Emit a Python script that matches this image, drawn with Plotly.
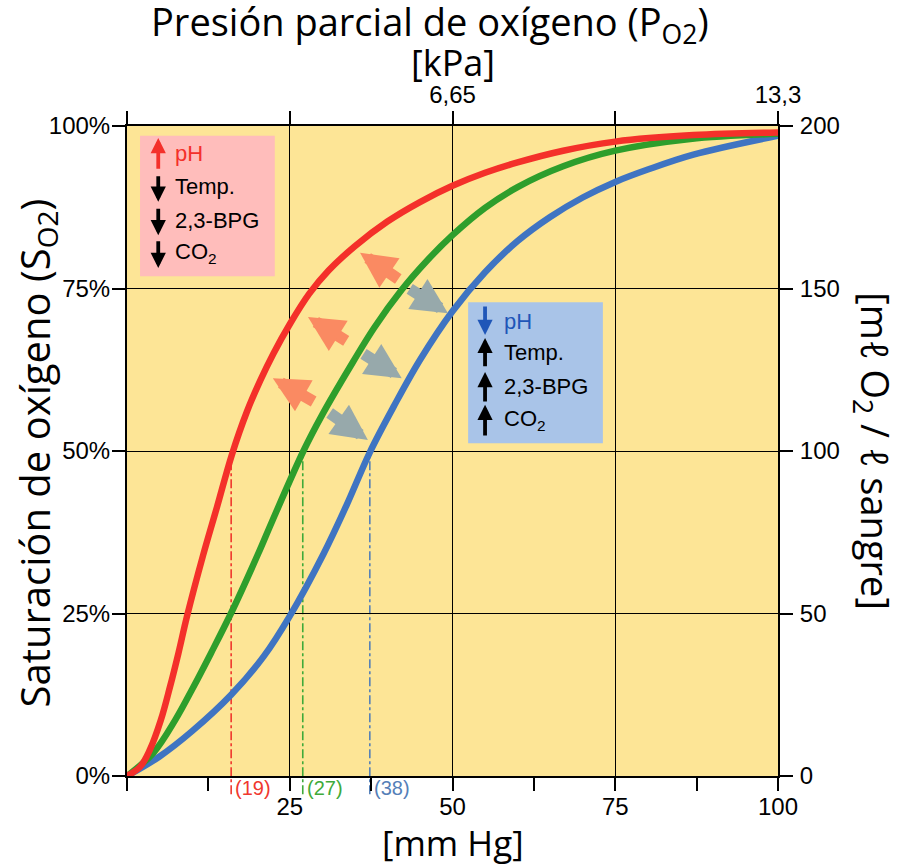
import plotly.graph_objs as go

# ejes
x_ticks = [0, 25, 50, 75, 100]
x_ticktext = ["", "25", "50", "75", "100"]
x_minor = [12.5, 37.5, 62.5, 87.5]
kpa_ticktext = ["", "", "6,65", "", "13,3"]
y_ticks = [0, 25, 50, 75, 100]
y_ticktext = ["0%", "25%", "50%", "75%", "100%"]
ml_ticks = [0, 50, 100, 150, 200]

# curvas de disociacion: pO2 (mm Hg) vs saturacion (%)
red_x = [0, 2, 3.5, 5.2, 6.6, 7.9, 9.2, 11.7, 13.8, 16.1, 18.4, 20.5, 22.5, 25, 28, 31, 35, 40, 45, 50, 55, 60, 67,
         75, 87, 100]
red_y = [0, 1.4, 4, 8.6, 13.7, 18.9, 24.5, 34, 41.3, 49.4, 56.0, 60.9, 65.0, 69.5, 74.2, 77.8, 81.5, 85.3, 88.3,
         90.8, 92.8, 94.4, 96.2, 97.6, 98.6, 99.0]

green_x = [0, 4.0, 7.4, 10.2, 12.9, 16.2, 20.2, 22.3, 27.1, 30, 34, 38, 42.2, 46, 50, 55, 60, 67, 75, 86.5, 100]
green_y = [0, 3.5, 8.6, 13.7, 18.9, 25.5, 34.3, 39.2, 50, 55.6, 62.5, 69, 74.8, 79.2, 83.2, 87.4, 90.6, 93.8, 96.2,
           98.0, 98.8]

blue_x = [0, 5, 10, 16, 21, 25, 30.2, 33.7, 37.3, 41, 45, 50, 55, 60, 65, 70, 75, 80, 87, 100]
blue_y = [0, 3.0, 6.9, 12.5, 18.4, 24.6, 34.2, 41.6, 49.8, 56.9, 64.0, 71.5, 77.5, 82.3, 86.0, 89.0, 91.4, 93.3,
          95.6, 98.5]

# P50
p50 = [16.0, 27.0, 37.3]
p50_text = ["(19)", "(27)", "(38)"]

# flechas de desplazamiento (punta, cola)
left_tip = [(22.4, 61.2), (27.8, 70.6), (35.8, 80.5)]
left_tail = [(28.9, 57.5), (33.9, 66.8), (41.9, 76.3)]
right_tail = [(30.9, 56.0), (36.1, 65.1), (43.2, 75.1)]
right_tip = [(37.0, 51.7), (42.2, 61.2), (49.3, 71.2)]

# cuadros
box_rows = ["pH", "Temp.", "2,3-BPG", "CO<sub>2</sub>"]
red_box = (2.0, 76.9, 22.7, 98.5)
red_rows_y = [95.8, 90.7, 85.5, 80.4]
red_arrow_tip = [98.15, 88.35, 83.2, 78.15]
red_arrow_tail = [93.2, 92.5, 87.5, 82.5]
blue_box = (52.4, 51.2, 73.1, 72.9)
blue_rows_y = [69.9, 65.2, 59.9, 54.8]
blue_arrow_tip = [67.85, 67.4, 62.15, 57.1]
blue_arrow_tail = [72.46, 62.8, 57.4, 52.15]

RED = "#F4302A"
GREEN = "#2E9E2C"
BLUE = "#3F74C2"
TITLE_FONT = "Open Sans"
TICK_FONT = "Liberation Sans"

fig = go.Figure()
for xs, ys, c in [(blue_x, blue_y, BLUE), (green_x, green_y, GREEN), (red_x, red_y, RED)]:
    fig.add_trace(go.Scatter(x=xs, y=ys, mode="lines", line=dict(color=c, width=6.5, shape="spline", smoothing=1.0),
                             hoverinfo="skip", showlegend=False))
# traza vacia para que se dibujen los ejes kPa y ml O2
fig.add_trace(go.Scatter(x=[], y=[], xaxis="x2", yaxis="y2", mode="lines", hoverinfo="skip", showlegend=False))

dash_colors = ["#F0382E", "#3FAA3A", "#5580B8"]
for p, t, c in zip(p50, p50_text, dash_colors):
    fig.add_shape(type="line", xref="x", yref="paper", x0=p, x1=p, y0=-0.028, y1=0.5,
                  line=dict(color=c, width=1.6, dash="dashdot"), layer="between")
    fig.add_annotation(x=p + 0.3, y=-0.018, xref="x", yref="paper", text=t, showarrow=False,
                       xanchor="left", yanchor="middle", font=dict(family=TICK_FONT, size=20, color=c))

for (tx, ty), (ax, ay) in zip(left_tip, left_tail):
    fig.add_annotation(x=tx, y=ty, ax=ax, ay=ay, xref="x", yref="y", axref="x", ayref="y", text="",
                       showarrow=True, arrowhead=2, arrowsize=0.62, arrowwidth=11.5, arrowcolor="#FA8A62")
for (tx, ty), (ax, ay) in zip(right_tip, right_tail):
    fig.add_annotation(x=tx, y=ty, ax=ax, ay=ay, xref="x", yref="y", axref="x", ayref="y", text="",
                       showarrow=True, arrowhead=2, arrowsize=0.62, arrowwidth=11.5, arrowcolor="#97A9AB")

fig.add_shape(type="rect", xref="x", yref="y", x0=red_box[0], y0=red_box[1], x1=red_box[2], y1=red_box[3],
              fillcolor="#FFBDBB", line=dict(width=0), layer="between")
fig.add_shape(type="rect", xref="x", yref="y", x0=blue_box[0], y0=blue_box[1], x1=blue_box[2], y1=blue_box[3],
              fillcolor="#A9C4E8", line=dict(width=0), layer="between")

for i, row in enumerate(box_rows):
    c_red = RED if i == 0 else "black"
    c_blue = "#1F56B8" if i == 0 else "black"
    fig.add_annotation(x=7.1, y=red_rows_y[i], xref="x", yref="y", text=row, showarrow=False, xanchor="left",
                       font=dict(family=TICK_FONT, size=22, color=c_red))
    fig.add_annotation(x=4.8, y=red_arrow_tip[i], ax=4.8, ay=red_arrow_tail[i], xref="x", yref="y", axref="x",
                       ayref="y", text="", showarrow=True, arrowhead=2, arrowsize=0.8, arrowwidth=3.8,
                       arrowcolor=c_red)
    fig.add_annotation(x=57.65, y=blue_rows_y[i], xref="x", yref="y", text=row, showarrow=False, xanchor="left",
                       font=dict(family=TICK_FONT, size=22, color=c_blue))
    fig.add_annotation(x=55.0, y=blue_arrow_tip[i], ax=55.0, ay=blue_arrow_tail[i], xref="x", yref="y",
                       axref="x", ayref="y", text="", showarrow=True, arrowhead=2, arrowsize=0.8,
                       arrowwidth=3.8, arrowcolor=c_blue)

axis_common = dict(showline=True, linecolor="black", linewidth=2, ticks="outside", ticklen=13, tickwidth=1.6,
                   tickcolor="black", tickfont=dict(family=TICK_FONT, size=24, color="black"), zeroline=False)

fig.update_layout(
    width=900, height=866,
    margin=dict(l=127, r=122, t=126, b=90),
    paper_bgcolor="white", plot_bgcolor="#FDE596",
    showlegend=False,
    xaxis=dict(range=[0, 100], tickmode="array", tickvals=x_ticks, ticktext=x_ticktext,
               showgrid=True, gridcolor="black", gridwidth=1.4, ticklabelstandoff=-5,
               minor=dict(tickvals=x_minor, ticks="outside", ticklen=13, tickwidth=1.6, tickcolor="black",
                          showgrid=False),
               **axis_common),
    xaxis2=dict(range=[0, 100], overlaying="x", side="top", anchor="y2", tickmode="array", tickvals=x_ticks,
                ticktext=kpa_ticktext, showgrid=False, ticklabelstandoff=-2, **axis_common),
    yaxis=dict(range=[0, 100], tickmode="array", tickvals=y_ticks, ticktext=y_ticktext,
               showgrid=True, gridcolor="black", gridwidth=1.4, ticklabelstandoff=-3, **axis_common),
    yaxis2=dict(range=[0, 200], overlaying="y", side="right", anchor="x2", tickmode="array", tickvals=ml_ticks,
                showgrid=False, ticklabelstandoff=2, **axis_common),
)

titles = [
    ("Presión parcial de oxígeno (P<sub>O2</sub>)", 0.465, 1.157, 0, 38),
    ("[kPa]", 0.5, 1.098, 0, 36),
    ("[mm Hg]", 0.5, -0.103, 0, 35),
    ("Saturación de oxígeno (S<sub>O2</sub>)", -0.139, 0.497, -90, 40),
    ("[mℓ O<sub>2</sub> / ℓ sangre]", 1.147, 0.5, 90, 38),
]
for text, x, y, ang, size in titles:
    fig.add_annotation(x=x, y=y, xref="paper", yref="paper", text=text, showarrow=False, textangle=ang,
                       xanchor="center", yanchor="middle", font=dict(family=TITLE_FONT, size=size, color="black"))

fig.write_html("out.html", config={"displayModeBar": False},
               post_script="document.body.style.margin = '0px';")
